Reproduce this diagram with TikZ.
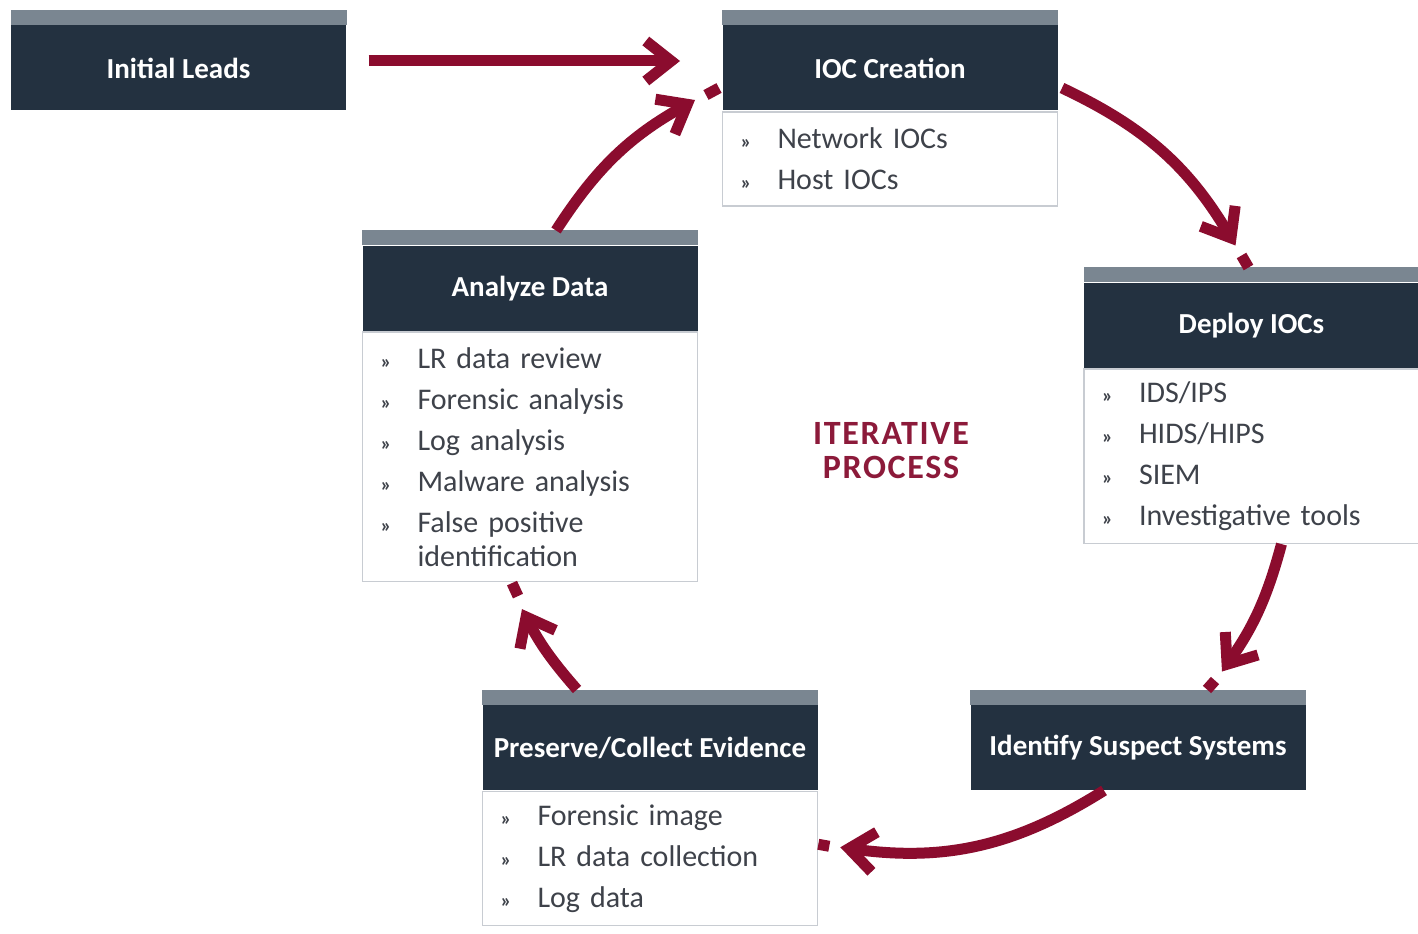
\documentclass[tikz,border=0pt]{standalone}
\usepackage{fontspec}
\setmainfont{Carlito}
\usetikzlibrary{positioning,calc,arrows.meta}

\tikzset{every picture/.style={line width=0.75pt}}
\tikzset{
	titlebox/.style={fill={rgb, 255:red, 35; green, 49; blue, 64 }, text=white, font=\fontsize{21.75}{26}\selectfont\bfseries, minimum width=251.25pt, minimum height=63.75pt, inner sep=0pt},
	band/.style={fill={rgb, 255:red, 122; green, 134; blue, 145 }},
	body/.style={draw={rgb, 255:red, 200; green, 204; blue, 210 }, line width=1.2pt, fill=white, text={rgb, 255:red, 62; green, 66; blue, 74 }, font=\fontsize{22.5}{30.75}\selectfont, text width=224.25pt, inner xsep=13.5pt, inner ysep=0pt, align=left},
	cyc/.style={draw={rgb, 255:red, 139; green, 12; blue, 46 }, line width=8.25pt, -{Straight Barb[length=19pt, width=30pt]}},
	stub/.style={draw={rgb, 255:red, 139; green, 12; blue, 46 }, line width=8.25pt}
}
\newcommand{\itm}{\makebox[27.75pt][l]{\fontsize{15}{15}\selectfont\bfseries »}}

\begin{document}
\begin{tikzpicture}[x=0.75pt,y=0.75pt,yscale=-1,xscale=1]
	\useasboundingbox (0,0) rectangle (1418,934);
	\fill[white] (0,0) rectangle (1418,934);

	% Title bars
	\node[titlebox] (leads) at (178.5,68) {Initial Leads};
	\node[titlebox] (ioc) at (890,68) {IOC Creation};
	\node[titlebox] (analyze) at (530,288.5) {Analyze Data};
	\node[titlebox] (deploy) at (1251.5,325.5) {Deploy IOCs};
	\node[titlebox] (identify) at (1138,747.5) {Identify Suspect Systems};
	\node[titlebox] (preserve) at (650,747.5) {Preserve/Collect Evidence};
	\foreach \n in {leads,ioc,analyze,deploy,identify,preserve}
		\fill[band] (\n.north west) rectangle ($(\n.north east)+(0,-15)$);

	% Item lists
	\node[body, minimum height=70.5pt, below=0pt of ioc] (iocB) {\itm Network IOCs\\ \itm Host IOCs};
	\node[body, minimum height=186.75pt, below=0pt of analyze] (analyzeB) {\itm LR data review\\ \itm Forensic analysis\\ \itm Log analysis\\ \itm Malware analysis\\ \itm False positive\\[-5.25pt] \hspace*{27.75pt}identification};
	\node[body, minimum height=130.5pt, below=0pt of deploy] (deployB) {\itm IDS/IPS\\ \itm HIDS/HIPS\\ \itm SIEM\\ \itm Investigative tools};
	\node[body, minimum height=100.5pt, below=0pt of preserve] (preserveB) {\itm Forensic image\\ \itm LR data collection\\ \itm Log data};

	% Centre label
	\node[text={rgb, 255:red, 140; green, 26; blue, 58 }, font=\fontsize{25.5}{25.5}\selectfont\bfseries\addfontfeature{LetterSpace=5}, align=center] (iter) at (891,451) {ITERATIVE\\PROCESS};

	% Lead arrow
	\draw[cyc] ($(leads.east)+(22,-7)$) -- ($(ioc.west)+(-42,-7)$);

	% Cycle arrows
	\draw[cyc] ($(ioc.east)+(4,20)$) to[bend right=17] ($(deploy.north)+(-16,-37)$);
	\draw[stub] ($(deploy.north)+(-10,-27)$) -- ($(deploy.north)+(-3,-15)$);

	\draw[cyc] ($(deployB.south)+(30,0)$) to[bend right=10] ($(identify.north)+(84,-33)$);
	\draw[stub] ($(identify.north)+(77,-24)$) -- ($(identify.north)+(69,-15)$);

	\draw[cyc] ($(identify.south)+(-34,0)$) to[bend right=20] ($(preserveB.east)+(22,-11)$);
	\draw[stub] ($(preserveB.east)+(11,-12)$) -- ($(preserveB.east)+(0,-14)$);

	\draw[cyc] ($(preserve.north)+(-73,-15)$) to[bend right=7] ($(analyzeB.south)+(-8,27)$);
	\draw[stub] ($(analyzeB.south)+(-12,14)$) -- ($(analyzeB.south)+(-18,1)$);

	\draw[cyc] ($(analyze.north)+(26,-15)$) to[bend right=14] ($(ioc.west)+(-27,32)$);
	\draw[stub] ($(ioc.west)+(-16,27)$) -- ($(ioc.west)+(-3,20)$);
\end{tikzpicture}
\end{document}
